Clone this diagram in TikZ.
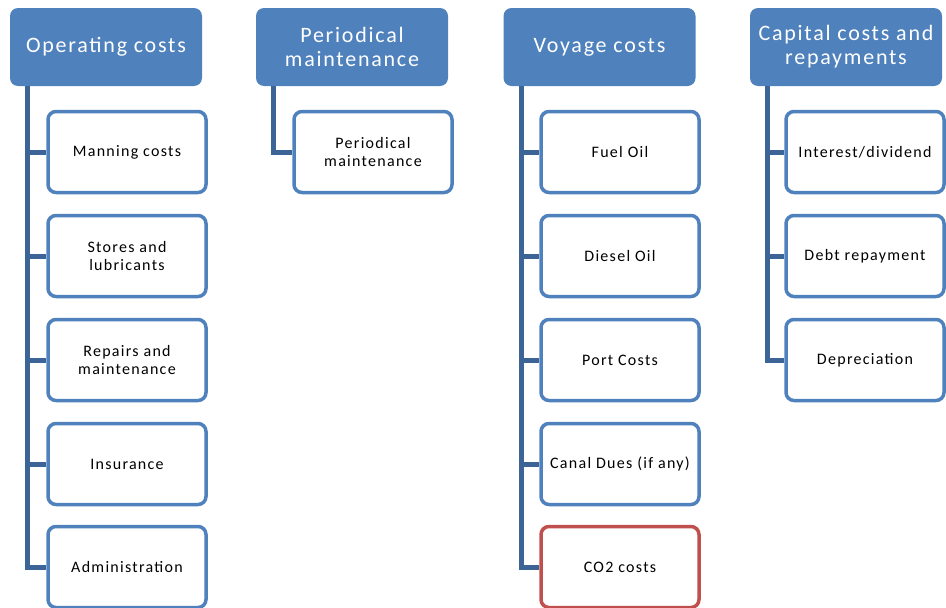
\documentclass[tikz,border=0pt]{standalone}
\usepackage{fontspec}
\setmainfont{Carlito}
\newfontfamily\spaced[LetterSpace=8]{Carlito}
\definecolor{hdr}{HTML}{4F81BD}
\definecolor{lin}{HTML}{3C6496}
\definecolor{redb}{HTML}{C0504D}
\tikzset{
  header/.style={draw=none, fill=hdr, rounded corners=8pt, minimum width=192pt, minimum height=78pt,
    text=white, align=center, font=\spaced\fontsize{22}{24}\selectfont, inner sep=2pt},
  child/.style={draw=hdr, line width=3.5pt, fill=white, rounded corners=8pt, minimum width=158pt,
    minimum height=81pt, align=center, font=\spaced\fontsize{16}{18}\selectfont, inner sep=2pt},
  redchild/.style={child, draw=redb},
  conn/.style={draw=lin, line width=5pt}
}
\begin{document}
\begin{tikzpicture}[x=1pt,y=-1pt]
\useasboundingbox (0,0) rectangle (946,608);
% headers
\node[header] (op) at (106,47) {Operating costs};
\node[header] (pm) at (352,47) {Periodical\\maintenance};
\node[header] (vc) at (599.5,47) {Voyage costs};
\node[header] (cc) at (846,47) {Capital costs and\\repayments};
% line anchors
\coordinate (opL) at ([xshift=18pt]op.south west);
\coordinate (pmL) at ([xshift=18pt]pm.south west);
\coordinate (vcL) at ([xshift=18pt]vc.south west);
\coordinate (ccL) at ([xshift=18pt]cc.south west);
% operating children
\node[child] (o1) at (127,152) {Manning costs};
\node[child] (o2) at (127,256) {Stores and\\lubricants};
\node[child] (o3) at (127,360) {Repairs and\\maintenance};
\node[child] (o4) at (127,464) {Insurance};
\node[child] (o5) at (127,567) {Administration};
% periodical
\node[child] (p1) at (373,152) {Periodical\\maintenance};
% voyage
\node[child] (v1) at (620,152) {Fuel Oil};
\node[child] (v2) at (620,256) {Diesel Oil};
\node[child] (v3) at (620,360) {Port Costs};
\node[child] (v4) at (620,464) {Canal Dues (if any)};
\node[redchild] (v5) at (620,567) {CO2 costs};
% capital
\node[child] (c1) at (865,152) {Interest/dividend};
\node[child] (c2) at (865,256) {Debt repayment};
\node[child] (c3) at (865,360) {Depreciation};
% connectors
\draw[conn] (opL) |- (o5.west);
\foreach \n in {o1,o2,o3,o4} \draw[conn] (opL |- \n.west) -- (\n.west);
\draw[conn] (pmL) |- (p1.west);
\draw[conn] (vcL) |- (v5.west);
\foreach \n in {v1,v2,v3,v4} \draw[conn] (vcL |- \n.west) -- (\n.west);
\draw[conn] (ccL) |- (c3.west);
\foreach \n in {c1,c2} \draw[conn] (ccL |- \n.west) -- (\n.west);
\end{tikzpicture}
\end{document}
